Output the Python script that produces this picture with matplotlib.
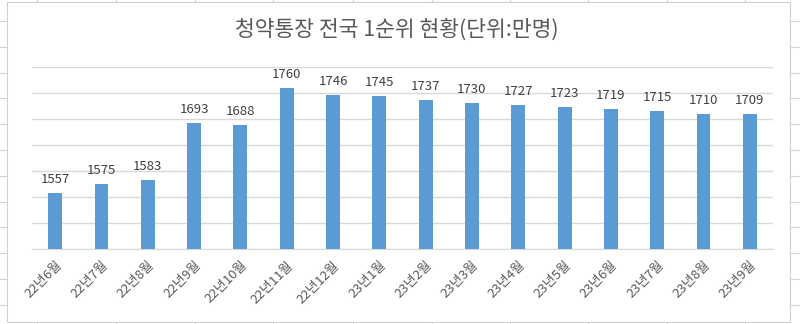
import matplotlib
matplotlib.use("Agg")
import matplotlib.pyplot as plt
from matplotlib.patches import Rectangle
from matplotlib.lines import Line2D

plt.rcParams['font.family'] = ['Noto Sans CJK KR', 'DejaVu Sans']

categories = ["22년6월", "22년7월", "22년8월", "22년9월", "22년10월", "22년11월", "22년12월",
              "23년1월", "23년2월", "23년3월", "23년4월", "23년5월", "23년6월", "23년7월",
              "23년8월", "23년9월"]
values = [1557, 1575, 1583, 1693, 1688, 1760, 1746, 1745, 1737, 1730, 1727, 1723, 1719,
          1715, 1710, 1709]
title = "청약통장 전국 1순위 현황(단위:만명)"

W, H = 800, 324
fig = plt.figure(figsize=(W / 100, H / 100), dpi=100)
fig.patch.set_facecolor('white')

# spreadsheet cell grid behind the chart
cell_col = '#d4d4d4'
for y in [21, 47, 73, 98, 124, 150, 176, 202, 227, 253, 279, 305]:
    fig.add_artist(Line2D([0, 7 / W], [1 - y / H, 1 - y / H], color=cell_col, lw=0.8))
    fig.add_artist(Line2D([790 / W, 1], [1 - y / H, 1 - y / H], color=cell_col, lw=0.8))
for x in [37, 116, 195, 273, 353, 432, 510, 588, 667, 745]:
    fig.add_artist(Line2D([x / W, x / W], [1 - 2 / H, 1], color=cell_col, lw=0.8))
    fig.add_artist(Line2D([x / W, x / W], [0, 1 - 322 / H], color=cell_col, lw=0.8))
# chart area border
fig.add_artist(Rectangle((7 / W, 1 - 322 / H), (790 - 7) / W, (322 - 2) / H,
                         facecolor='white', edgecolor='#d0d0d0', lw=0.8, zorder=0))

left, right, top, bottom = 32, 773, 67, 249
ax = fig.add_axes([left / W, 1 - bottom / H, (right - left) / W, (bottom - top) / H])
ax.set_facecolor('none')

x = list(range(len(categories)))
bars = ax.bar(x, values, width=0.3, color='#5B9BD5', zorder=3)
ax.bar_label(bars, labels=[str(v) for v in values], padding=5, fontsize=9.5,
             color='#404040')

ax.set_xlim(-0.5, len(categories) - 0.5)
ax.set_ylim(1450, 1800)
ax.set_yticks(range(1450, 1801, 50))
ax.yaxis.grid(True, color='#d9d9d9', lw=1.0)
ax.set_axisbelow(True)
ax.tick_params(axis='y', left=False, labelleft=False)
ax.tick_params(axis='x', length=0, pad=7)
ax.set_xticks(x)
ax.set_xticklabels(categories, rotation=45, ha='right', rotation_mode='anchor',
                   fontsize=9.5, color='#595959')
for lbl in ax.get_xticklabels():
    lbl.set_x(lbl.get_position()[0])
for s in ['left', 'right', 'top']:
    ax.spines[s].set_visible(False)
ax.spines['bottom'].set_color('#d9d9d9')

fig.text(0.496, 1 - 30 / H, title, ha='center', va='center', fontsize=15.5, color='#595959')

fig.savefig('out.png', dpi=100, facecolor='white')
